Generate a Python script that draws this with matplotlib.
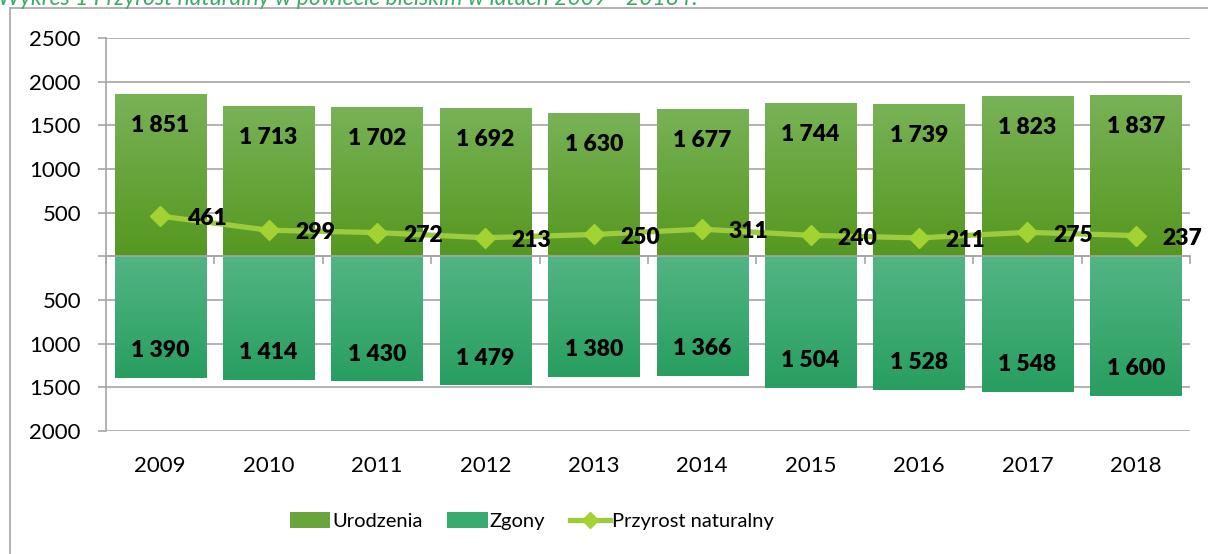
import matplotlib.pyplot as plt
import matplotlib.colors as mcolors
import numpy as np
from matplotlib.patches import Patch, Rectangle
from matplotlib.lines import Line2D

years = ['2009', '2010', '2011', '2012', '2013', '2014', '2015', '2016', '2017', '2018']
urodzenia = [1851, 1713, 1702, 1692, 1630, 1677, 1744, 1739, 1823, 1837]
zgony = [1390, 1414, 1430, 1479, 1380, 1366, 1504, 1528, 1548, 1600]
przyrost = [461, 299, 272, 213, 250, 311, 240, 211, 275, 237]
yticks = [-2000, -1500, -1000, -500, 0, 500, 1000, 1500, 2000, 2500]

plt.rcParams['font.family'] = ['Lato', 'DejaVu Sans']

fig = plt.figure(figsize=(12.08, 5.54), dpi=100)
ax = fig.add_axes([106 / 1208, 1 - 431 / 554, (1190 - 106) / 1208, (431 - 38) / 554])

# outer frame and title (cut off at the top, as in the source)
fig.patches.append(Rectangle((10 / 1208, -0.1), 1.2, 1 - 8 / 554 + 0.1,
                             transform=fig.transFigure, fill=False,
                             edgecolor='#a6a6a6', linewidth=1.2))
fig.text(-2 / 1208, 1 - 5 / 554,
         'Wykres 1 Przyrost naturalny w powiecie bielskim w latach 2009 - 2018 r.',
         color='#3daa6a', style='italic', fontsize=16.5, va='baseline', ha='left')

x = np.arange(len(years))
w = 0.84

# gradient fills for the bars
grad_u = mcolors.LinearSegmentedColormap.from_list('u', ['#55981f', '#78b257'])
grad_z = mcolors.LinearSegmentedColormap.from_list('z', ['#289e60', '#52b584'])
g = np.linspace(0, 1, 256).reshape(-1, 1)

for i in range(len(years)):
    ax.imshow(g, cmap=grad_u, origin='lower', aspect='auto',
              extent=(x[i] - w / 2, x[i] + w / 2, 0, urodzenia[i]), zorder=2)
    ax.imshow(g, cmap=grad_z, origin='lower', aspect='auto',
              extent=(x[i] - w / 2, x[i] + w / 2, -zgony[i], 0), zorder=2)
    ax.annotate(f'{urodzenia[i]:,}'.replace(',', ' '), (x[i], urodzenia[i]),
                xytext=(0, -22), textcoords='offset points', ha='center', va='center',
                fontsize=16.5, fontweight='heavy', zorder=5)
    ax.annotate(f'{zgony[i]:,}'.replace(',', ' '), (x[i], -zgony[i]),
                xytext=(0, 19.5), textcoords='offset points', ha='center', va='center',
                fontsize=16.5, fontweight='heavy', zorder=5)

ax.plot(x, przyrost, color='#9dcb3e', linewidth=3.8, marker='D', markersize=10.5,
        markerfacecolor='#a3d332', markeredgecolor='#a3d332', zorder=4)
for i in range(len(years)):
    ax.annotate(str(przyrost[i]), (x[i], przyrost[i]), xytext=(19, -2),
                textcoords='offset points', ha='left', va='center',
                fontsize=16.5, fontweight='heavy', zorder=5)

ax.set_xlim(-0.5, len(years) - 0.5)
ax.set_ylim(-2000, 2500)
ax.set_yticks(yticks)
ax.set_yticklabels([str(abs(v)) if v != 0 else '' for v in yticks], fontsize=16)
ax.grid(axis='y', color='#a6a6a6', linewidth=1.2, zorder=0)
ax.set_axisbelow(True)

ax.spines['top'].set_visible(False)
ax.spines['right'].set_visible(False)
ax.spines['left'].set_color('#a6a6a6')
ax.spines['left'].set_linewidth(1.2)
ax.spines['bottom'].set_position(('data', 0))
ax.spines['bottom'].set_color('#a6a6a6')
ax.spines['bottom'].set_linewidth(1.2)
ax.spines['bottom'].set_zorder(3)
ax.set_xticks(np.arange(len(years) + 1) - 0.5)
ax.set_xticklabels([])
ax.tick_params(axis='x', length=6, color='#a6a6a6', width=1.2)
ax.tick_params(axis='y', length=6, color='#a6a6a6', width=1.2, pad=12)

for i in range(len(years)):
    ax.annotate(years[i], (x[i], 0), xycoords=('data', 'axes fraction'),
                xytext=(0, -25), textcoords='offset points', ha='center', va='center',
                fontsize=16)

handles = [
    Patch(facecolor='#68a63c', label='Urodzenia'),
    Patch(facecolor='#3aab70', label='Zgony'),
    Line2D([0], [0], color='#9dcb3e', linewidth=3.8, marker='D', markersize=8,
           markerfacecolor='#a3d332', markeredgecolor='#a3d332', label='Przyrost naturalny'),
]
fig.legend(handles=handles, loc='center left', bbox_to_anchor=(290 / 1208, 1 - 521 / 554),
           ncol=3, frameon=False, fontsize=14.5, handlelength=2.0, handleheight=0.8,
           handletextpad=0.12, columnspacing=1.2, borderpad=0, borderaxespad=0)

fig.savefig('out.png', dpi=100)
